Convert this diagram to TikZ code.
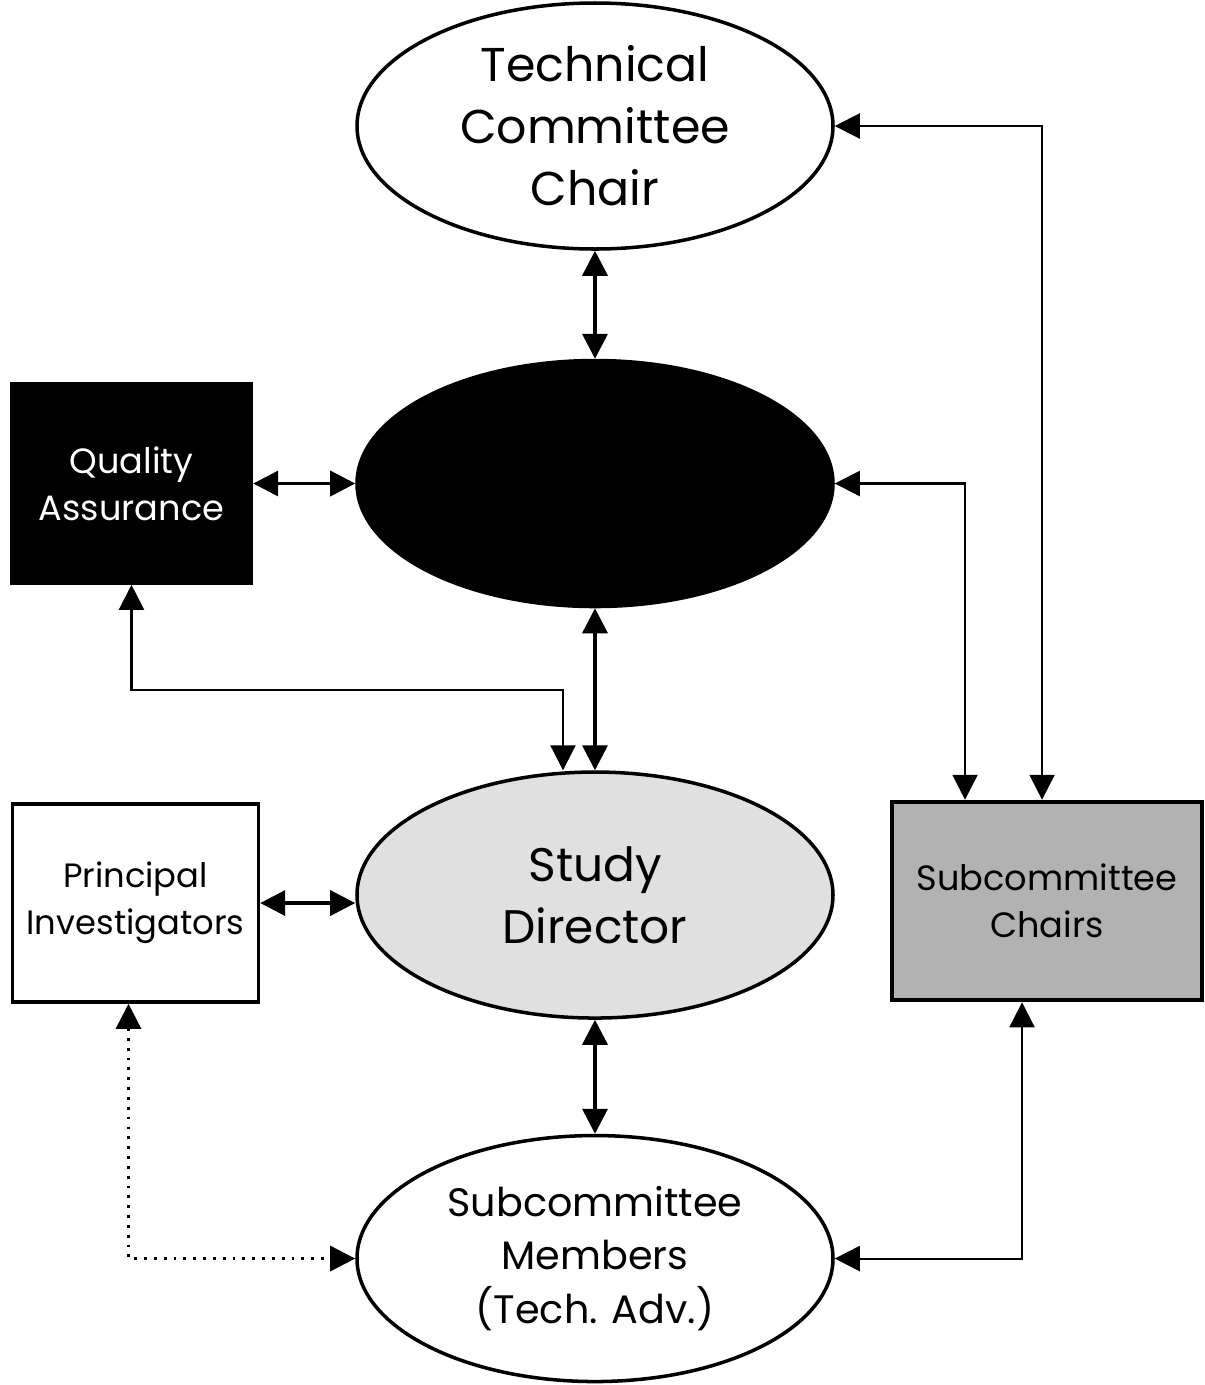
\documentclass[tikz,border=0pt]{standalone}
\usepackage{fontspec}
\setmainfont{Poppins}
\usetikzlibrary{arrows.meta,shapes.geometric}
\usetikzlibrary{positioning}

\begin{document}
\begin{tikzpicture} [
    oval/.style={ellipse, draw=black, line width=1pt, inner sep=0pt, minimum width=4.76cm, minimum height=2.46cm, align=center},
    box/.style={rectangle, draw=black, line width=1pt, inner sep=0pt, minimum height=1.98cm, align=center, font=\fontsize{10}{13.3}\selectfont},
    heavy/.style={line width=1pt},
    light/.style={line width=0.6pt},
    >={Triangle[length=0.25cm,width=0.25cm]}
    ]
    \useasboundingbox (0,0) rectangle (12.05,-13.85);
    %Nodes
    \node[oval, font=\fontsize{13.5}{17.6}\selectfont] (tcc) at (5.95,-1.26) {Technical\\Committee\\Chair};
    \node[oval, fill=black] (core) [below=1.08cm of tcc]              {};
    \node[oval, fill=black!12, font=\fontsize{13.4}{17.6}\selectfont] (sd) [below=1.62cm of core] {Study\\Director};
    \node[oval, font=\fontsize{11.3}{15.3}\selectfont] (sm) [below=1.14cm of sd] {Subcommittee\\Members\\(Tech. Adv.)};
    \node[box, fill=black, text=white, minimum width=2.40cm, minimum height=1.99cm] (qa) [left=1.02cm of core] {Quality\\Assurance};
    \node[box, minimum width=2.46cm, font=\fontsize{9.6}{13.3}\selectfont] (pi) [left=0.95cm of sd, yshift=-0.08cm] {Principal\\Investigators};
    \node[box, fill=black!30, line width=1.3pt, minimum width=3.10cm] (sc) [right=0.55cm of sd, yshift=-0.06cm] {Subcommittee\\Chairs};
    %Lines
    \draw[<->, heavy] (tcc.south) -- (core.north);
    \draw[<->, heavy] (qa.east) -- (core.west);
    \draw[<->, heavy] (core.south) -- (sd.north);
    \draw[<->, heavy] (pi.east) -- (pi.east -| sd.west);
    \draw[<->, heavy] (sd.south) -- (sm.north);
    \draw[<->, light] (qa.south) -- ++(0,-1.05) -| ([xshift=-0.32cm]sd.north);
    \draw[<->, light] (tcc.east) -| ([xshift=-0.05cm]sc.north);
    \draw[<->, light] (core.east) -| ([xshift=-0.82cm]sc.north);
    \draw[<->, light] ([xshift=-0.25cm]sc.south) |- (sm.east);
    \draw[<->, line width=0.8pt, dotted] ([xshift=-0.07cm]pi.south) |- (sm.west);
\end{tikzpicture}
\end{document}
